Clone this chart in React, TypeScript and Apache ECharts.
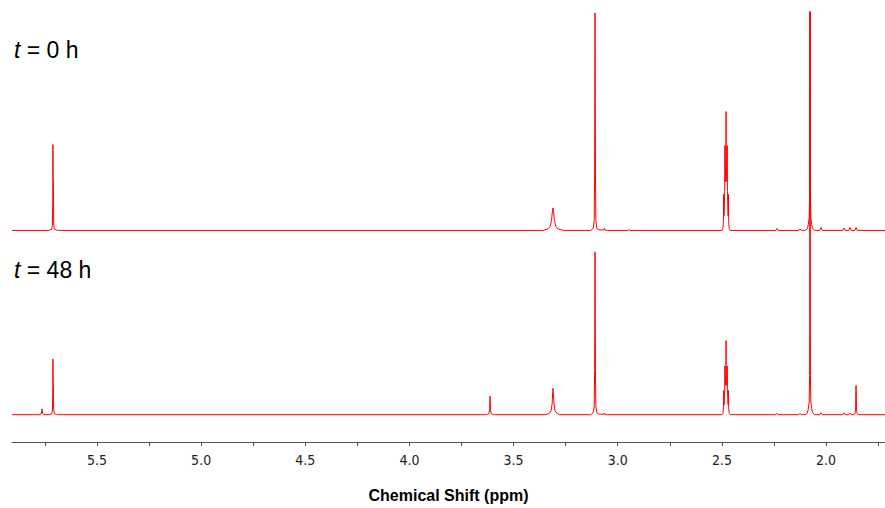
import React, { useEffect, useRef } from "react";
import * as echarts from "echarts";

// Chemical-shift axis (ppm), drawn inverted
const X_MIN = 1.717;
const X_MAX = 5.908;
const LABEL_VALUES = [2.0, 2.5, 3.0, 3.5, 4.0, 4.5, 5.0, 5.5];
const TICK_VALUES = [1.75, 2.0, 2.25, 2.5, 2.75, 3.0, 3.25, 3.5, 3.75, 4.0, 4.25, 4.5, 4.75, 5.0, 5.25, 5.5, 5.75];

// Trace labels
const TRACE_LABELS = ["0", "48"];

// t = 0 h spectrum: [ppm, intensity above baseline]
const t0Spectrum: [number, number][] = [
  [5.908, 0],
  [5.73, 0], [5.718, 1], [5.714, 5], [5.7125, 30], [5.7115, 88], [5.7105, 55], [5.7095, 50], [5.708, 8], [5.705, 1.5], [5.69, 0],
  [3.36, 0], [3.335, 1.5], [3.325, 4], [3.318, 10], [3.314, 19], [3.311, 23], [3.308, 19], [3.304, 10], [3.297, 4], [3.287, 1.5], [3.26, 0],
  [3.13, 0], [3.118, 2], [3.113, 10], [3.111, 60], [3.109, 223], [3.107, 60], [3.105, 10], [3.1, 2], [3.09, 0.5], [3.066, 0.5], [3.064, 2], [3.062, 0.5], [3.05, 0],
  [2.95, 0], [2.946, 1], [2.942, 0],
  [2.50, 0], [2.495, 2], [2.4925, 10], [2.4915, 37], [2.490, 15], [2.4865, 40], [2.4855, 87], [2.484, 50], [2.4805, 70], [2.480, 122], [2.4795, 70], [2.476, 50], [2.4745, 87], [2.4735, 40], [2.470, 15], [2.4685, 37], [2.4675, 10], [2.465, 2], [2.46, 0],
  [2.242, 0], [2.236, 2], [2.23, 0],
  [2.131, 0], [2.125, 1.5], [2.119, 0],
  [2.10, 0], [2.09, 1.5], [2.085, 6], [2.081, 13], [2.079, 40], [2.077, 500], [2.075, 40], [2.073, 13], [2.069, 6], [2.064, 2], [2.055, 0],
  [2.03, 0], [2.024, 3], [2.018, 0],
  [1.92, 0], [1.914, 2.5], [1.908, 0],
  [1.891, 0], [1.885, 3], [1.879, 0],
  [1.862, 0], [1.856, 3], [1.85, 0],
  [1.717, 0],
];

// t = 48 h spectrum: [ppm, intensity above baseline]
const t48Spectrum: [number, number][] = [
  [5.908, 0],
  [5.775, 0], [5.768, 1], [5.765, 4], [5.764, 6], [5.763, 4], [5.76, 1], [5.75, 0],
  [5.73, 0], [5.718, 1], [5.714, 4], [5.7125, 20], [5.7115, 57], [5.7105, 35], [5.7095, 30], [5.708, 6], [5.705, 1], [5.69, 0],
  [3.63, 0], [3.619, 1], [3.615, 5], [3.613, 19], [3.611, 5], [3.607, 1], [3.596, 0],
  [3.345, 0], [3.328, 1.5], [3.32, 4], [3.315, 11], [3.312, 24], [3.311, 27], [3.309, 22], [3.306, 11], [3.301, 4], [3.293, 1.5], [3.28, 0],
  [3.13, 0], [3.118, 2], [3.113, 8], [3.111, 45], [3.109, 167], [3.107, 45], [3.105, 8], [3.1, 2], [3.09, 0.5], [3.066, 0.5], [3.064, 1.5], [3.062, 0.5], [3.05, 0],
  [2.50, 0], [2.495, 1.5], [2.4925, 7], [2.4915, 25], [2.490, 10], [2.4865, 25], [2.4855, 50], [2.484, 30], [2.4805, 45], [2.480, 76], [2.4795, 45], [2.476, 30], [2.4745, 50], [2.4735, 25], [2.470, 10], [2.4685, 25], [2.4675, 7], [2.465, 1.5], [2.46, 0],
  [2.242, 0], [2.236, 1.5], [2.23, 0],
  [2.131, 0], [2.125, 1.5], [2.119, 0],
  [2.10, 0], [2.09, 1.5], [2.085, 6], [2.081, 13], [2.079, 40], [2.077, 600], [2.075, 40], [2.073, 13], [2.069, 6], [2.064, 2], [2.055, 0],
  [2.03, 0], [2.024, 2], [2.018, 0],
  [1.92, 0], [1.914, 2], [1.908, 0],
  [1.891, 0], [1.885, 1.5], [1.879, 0],
  [1.866, 0], [1.86, 2], [1.858, 8], [1.857, 25], [1.856, 30], [1.855, 25], [1.854, 8], [1.852, 2], [1.846, 0],
  [1.717, 0],
];

// vertical stacking offsets (baseline positions in plot units)
const OFFSET_T0 = 217;
const OFFSET_T48 = 28;
const Y_MAX = 441;

export default function App() {
  const ref = useRef<HTMLDivElement>(null);

  useEffect(() => {
    if (!ref.current) return;
    const chart = echarts.init(ref.current, null, { renderer: "svg" });
    const shift = (arr: [number, number][], off: number) => arr.map(([x, y]) => [x, y + off]);
    const labelStyle = {
      fontFamily: "Liberation Sans, Arial, sans-serif",
      fontSize: 23,
      fill: "#000",
      rich: {
        i: { fontStyle: "italic", fontFamily: "Liberation Sans, Arial, sans-serif", fontSize: 23, fill: "#000" },
      },
    };
    chart.setOption({
      animation: false,
      backgroundColor: "#ffffff",
      grid: { left: 12, right: 0, top: 12, bottom: 55, containLabel: false },
      xAxis: {
        type: "value",
        min: X_MIN,
        max: X_MAX,
        inverse: true,
        name: "Chemical Shift (ppm)",
        nameLocation: "middle",
        nameGap: 45,
        nameTextStyle: {
          fontFamily: "Liberation Sans, Arial, sans-serif",
          fontWeight: "bold",
          fontSize: 16,
          color: "#000",
        },
        axisLine: { show: true, onZero: false, lineStyle: { color: "#555", width: 1 } },
        axisTick: { show: true, length: 4, inside: false, customValues: TICK_VALUES, lineStyle: { color: "#555" } },
        axisLabel: {
          customValues: LABEL_VALUES,
          formatter: (v: number) => v.toFixed(1),
          fontFamily: "DejaVu Sans Condensed, DejaVu Sans, sans-serif",
          fontSize: 14,
          color: "#222",
          margin: 11,
        },
        splitLine: { show: false },
      },
      yAxis: {
        type: "value",
        min: 0,
        max: Y_MAX,
        show: false,
      },
      series: [
        {
          type: "line",
          name: "t0",
          data: shift(t0Spectrum, OFFSET_T0),
          showSymbol: false,
          clip: true,
          lineStyle: { color: "#ff0000", width: 1 },
          silent: true,
        },
        {
          type: "line",
          name: "t48",
          data: shift(t48Spectrum, OFFSET_T48),
          showSymbol: false,
          clip: true,
          lineStyle: { color: "#ff0000", width: 1 },
          silent: true,
        },
      ],
      graphic: [
        {
          type: "text",
          left: 14,
          top: 38,
          style: { ...labelStyle, text: `{i|t} = ${TRACE_LABELS[0]} h` },
        },
        {
          type: "text",
          left: 14,
          top: 258,
          style: { ...labelStyle, text: `{i|t} = ${TRACE_LABELS[1]} h` },
        },
      ],
    });
    return () => chart.dispose();
  }, []);

  return (
    <div
      ref={ref}
      style={{ position: "fixed", left: 0, top: 0, width: 885, height: 508, background: "#fff" }}
    />
  );
}
